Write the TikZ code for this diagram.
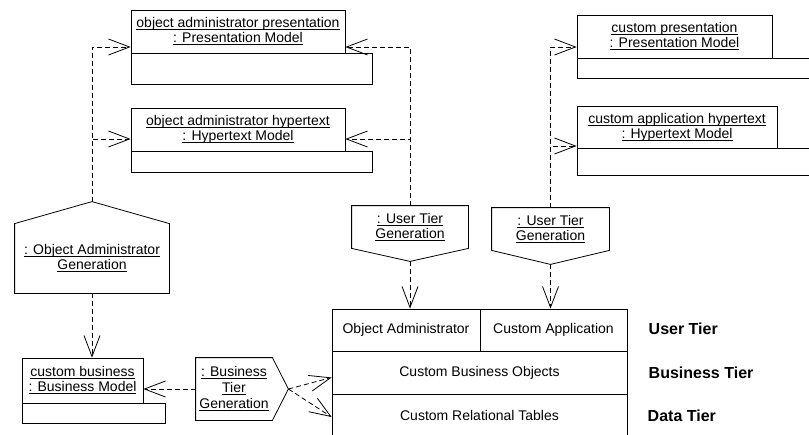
\documentclass[tikz,border=0pt]{standalone}
\usepackage{fontspec}
\setmainfont{Liberation Sans}
\usepackage{amsmath}
\usetikzlibrary{arrows.meta}
\newcommand{\uln}[1]{\underline{\smash[b]{#1}}}

\begin{document}
\begin{tikzpicture}[x=1pt,y=-1pt,line width=0.8pt,
  every node/.style={font=\fontsize{14}{15}\selectfont},
  obj/.style={draw,align=center,inner sep=0pt},
  comp/.style={draw,anchor=north west,inner sep=0pt},
  gen/.style={align=center,inner sep=0pt},
  tierrow/.style={draw,inner sep=0pt},
  dep/.style={dash pattern=on 5pt off 3pt,-{Straight Barb[length=21pt,width=16pt]}},
  tiername/.style={anchor=west,font=\fontsize{16}{18}\selectfont\bfseries}]
\useasboundingbox (0,0) rectangle (809,434);
\clip (0,0) rectangle (809,434);

% models
\node[obj,minimum width=214pt,minimum height=43pt] (oap) at (238,31.5) {\uln{object administrator presentation}\\\uln{: Presentation Model}};
\node[comp,minimum width=241pt,minimum height=31pt] at (oap.south west) {};
\node[obj,minimum width=214pt,minimum height=43pt] (oah) at (238,129.5) {\uln{object administrator hypertext}\\\uln{: Hypertext Model}};
\node[comp,minimum width=241pt,minimum height=21pt] at (oah.south west) {};
\node[obj,minimum width=195pt,minimum height=43pt] (cp) at (674.5,36.5) {\uln{custom presentation}\\\uln{: Presentation Model}};
\node[comp,minimum width=240pt,minimum height=20pt] at (cp.south west) {};
\node[obj,minimum width=200pt,minimum height=42pt] (cah) at (677,127) {\uln{custom application hypertext}\\\uln{: Hypertext Model}};
\node[comp,minimum width=240pt,minimum height=27pt] at (cah.south west) {};
\node[obj,minimum width=121pt,minimum height=45pt] (cb) at (82.5,380.5) {\uln{custom business}\\\uln{: Business Model}};
\node[comp,minimum width=143pt,minimum height=20pt] at (cb.south west) {};

% generations
\node[gen,minimum width=154pt,minimum height=69pt] (oag) at (92,258.5) {\uln{: Object Administrator}\\\uln{Generation}};
\coordinate (oagtip) at ([yshift=22pt]oag.north);
\draw (oag.south west) -- (oag.north west) -- (oagtip) -- (oag.north east) -- (oag.south east) -- cycle;

\node[gen,minimum width=116pt,minimum height=42pt] (utga) at (410,227) {\uln{: User Tier}\\\uln{Generation}};
\coordinate (utgatip) at ([yshift=-13pt]utga.south);
\draw (utga.north west) -- (utga.north east) -- (utga.south east) -- (utgatip) -- (utga.south west) -- cycle;

\node[gen,minimum width=117pt,minimum height=42pt] (utgb) at (550.5,229) {\uln{: User Tier}\\\uln{Generation}};
\coordinate (utgbtip) at ([yshift=-14pt]utgb.south);
\draw (utgb.north west) -- (utgb.north east) -- (utgb.south east) -- (utgbtip) -- (utgb.south west) -- cycle;

\node[gen,minimum width=76pt,minimum height=62pt,font=\fontsize{14}{16}\selectfont] (btg) at (234,389) {\uln{: Business}\\\uln{Tier}\\\uln{Generation}};
\coordinate (btgtip) at ([xshift=16pt]btg.east);
\draw (btg.south west) -- (btg.north west) -- (btg.north east) -- (btgtip) -- (btg.south east) -- cycle;

% tiers
\node[tierrow,minimum width=148pt,minimum height=42pt] (oa) at (406,330) {Object Administrator};
\node[tierrow,minimum width=147pt,minimum height=42pt] (ca) at (553.5,330) {Custom Application};
\node[tierrow,minimum width=295pt,minimum height=43pt] (cbo) at (479.5,372.5) {Custom Business Objects};
\node[tierrow,minimum width=295pt,minimum height=46pt] (crt) at (479.5,417) {};
\node at (479.5,415) {Custom Relational Tables};
\node[tiername] (ut) at (645,329) {User Tier};
\node[tiername] (bt) at (645,373) {Business Tier};
\node[tiername] (dt) at (644,416) {Data Tier};

% dependencies
\draw[dep] (oagtip) |- ([yshift=-15.5pt]oap.west);
\draw[dep] (oagtip) |- ([yshift=-9.5pt]oah.west);
\draw[dep] (utga.north) |- ([yshift=-15.5pt]oap.east);
\draw[dep] (utga.north) |- ([yshift=-9.5pt]oah.east);
\draw[dep] (utgb.north) |- ([yshift=-10.5pt]cp.west);
\draw[dep] (utgb.north) |- ([yshift=-19pt]cah.west);
\draw[dep] (utgatip) -- (utgatip |- oa.north);
\draw[dep] (utgbtip) -- (utgbtip |- ca.north);
\draw[dep] (oag.south) -- (oag.south |- cb.north);
\draw[dep] (btg.west) -- (btg.west -| cb.east);
\draw[dep] (btgtip) -- ([yshift=-5pt]cbo.west);
\draw[dep] (btgtip) -- (crt.west);
\end{tikzpicture}
\end{document}
